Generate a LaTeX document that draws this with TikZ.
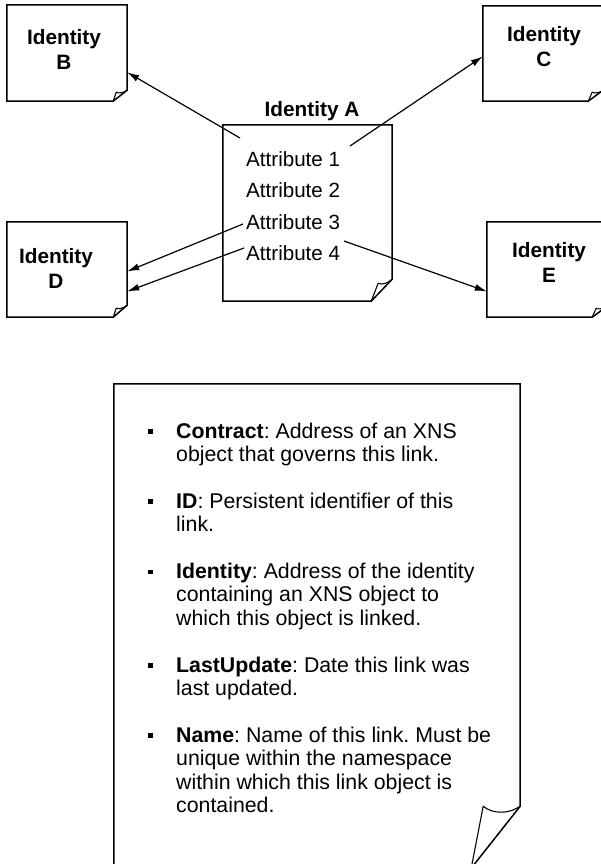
\documentclass[tikz,border=0pt]{standalone}
\usepackage{fontspec}
\setmainfont{Liberation Sans}
\usetikzlibrary{arrows.meta,calc}
\frenchspacing

\tikzset{
  sheet/.style={rectangle, inner sep=0pt, draw=none},
  outline/.style={line width=1.5pt, line join=miter},
  flap/.style={line width=1.1pt, line join=round},
  link/.style={line width=1.2pt, -{Latex[length=12pt,width=7pt]}},
  title/.style={font=\fontsize{20.8pt}{25pt}\selectfont\bfseries, align=center, anchor=base, inner sep=0pt},
  attr/.style={font=\fontsize{20.6pt}{25pt}\selectfont, anchor=base west, inner sep=0pt},
  note/.style={font=\fontsize{21.3pt}{23.4pt}\selectfont, align=left, anchor=base west, inner sep=0pt},
  bullet/.style={rectangle, fill=black, minimum size=4.8pt, inner sep=0pt},
}

% sheet with a dog-eared lower right corner:
% #1 node name, #2/#3 horizontal/vertical size of the cut,
% #4/#5 offset of the flap tip from the lower right corner, #6 sag of the flap edge
\newcommand\foldedsheet[6]{%
  \coordinate (#1-p1) at ($(#1.south east)+(0pt,#3pt)$);
  \coordinate (#1-p2) at ($(#1.south east)+(-#2pt,0pt)$);
  \coordinate (#1-tip) at ($(#1.south east)+(-#4pt,#5pt)$);
  \draw[outline] (#1.south west) -- (#1.north west) -- (#1.north east)
    -- (#1-p1) -- (#1-p2) -- cycle;
  \draw[flap] (#1-p2) -- (#1-tip)
    .. controls ($(#1-tip)!0.25!(#1-p1)+(0pt,-#6pt)$)
       and ($(#1-tip)!0.7!(#1-p1)+(0pt,-#6pt)$) .. (#1-p1);
}

\begin{document}
\begin{tikzpicture}[x=1pt,y=-1pt]
\useasboundingbox (0,0) rectangle (600,864);

% the five identity sheets
\node[sheet, minimum width=120pt, minimum height=96pt] (B) at (67,53) {};
\node[sheet, minimum width=120pt, minimum height=95pt] (C) at (543,53.5) {};
\node[sheet, minimum width=169pt, minimum height=176pt] (A) at (307.5,213) {};
\node[sheet, minimum width=120pt, minimum height=95pt] (D) at (67,269.5) {};
\node[sheet, minimum width=120pt, minimum height=95pt] (E) at (547,269.5) {};
\foldedsheet{B}{14}{11}{11}{9}{2}
\foldedsheet{C}{15}{11}{11}{9}{2}
\foldedsheet{A}{21}{22}{14}{18}{3}
\foldedsheet{D}{14}{12}{11}{9}{2}
\foldedsheet{E}{15}{11}{11}{9}{2}

% labels (a multi-line node sits on the baseline of its last line)
\node[title] (tB) at (64,70) {Identity\\B};
\node[title] (tC) at (544,67) {Identity\\C};
\node[title] (tD) at (56,288) {Identity\\D};
\node[title] (tE) at (549,282) {Identity\\E};
\node[title] (tA) at (312,117) {Identity A};
\node[attr] (at1) at (246,166) {Attribute 1};
\node[attr] (at2) at (246,197) {Attribute 2};
\node[attr] (at3) at (246,229) {Attribute 3};
\node[attr] (at4) at (246,260) {Attribute 4};

% link origins inside sheet A
\coordinate (oB) at (240,138);
\coordinate (oC) at (350,146);
\coordinate (oD1) at (243,224);
\coordinate (oD2) at (244,248);
\coordinate (oE) at (344,241);

\draw[link] (oB) -- ($(B.north east)!0.70!(B.south east)$);
\draw[link] (oC) -- ($(C.north west)!0.53!(C.south west)$);
\draw[link] (oD1) -- ($(D.north east)!0.52!(D.south east)$);
\draw[link] (oD2) -- ($(D.north east)!0.73!(D.south east)$);
\draw[link] (oE) -- ($(E.north west)!0.73!(E.south west)$);

% description sheet
\node[sheet, minimum width=406pt, minimum height=484pt] (N) at (317,626) {};
\foldedsheet{N}{49}{62}{37}{62}{8}

\node[bullet] (b1) at (150.5,431.5) {};
\node[note] (n1) at (176,461.4) {\textbf{Contract}: Address of an XNS\\object that governs this link.};
\node[bullet] (b2) at (150.5,501.7) {};
\node[note] (n2) at (176,531.6) {\textbf{ID}: Persistent identifier of this\\link.};
\node[bullet] (b3) at (150.5,571.9) {};
\node[note] (n3) at (176,625.2) {\textbf{Identity}: Address of the identity\\containing an XNS object to\\which this object is linked.};
\node[bullet] (b4) at (150.5,665.5) {};
\node[note] (n4) at (176,695.4) {\textbf{LastUpdate}: Date this link was\\last updated.};
\node[bullet] (b5) at (150.5,735.7) {};
\node[note] (n5) at (176,812.4) {\textbf{Name}: Name of this link. Must be\\unique within the namespace\\within which this link object is\\contained.};
\end{tikzpicture}
\end{document}
